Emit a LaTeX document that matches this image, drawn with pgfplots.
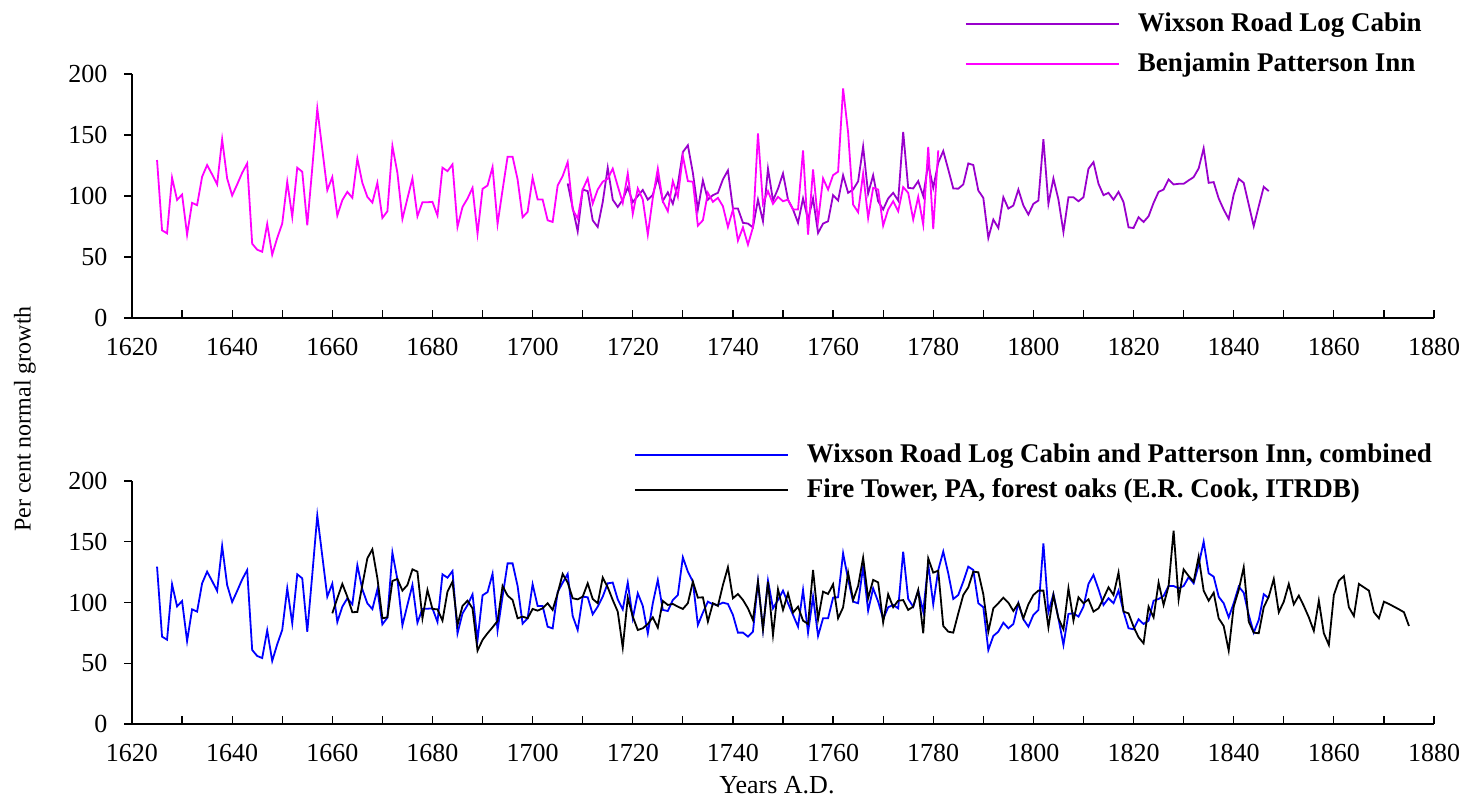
\documentclass[border=0pt]{standalone}
\usepackage{fontspec}
\setmainfont{Liberation Serif}
\usepackage{pgfplots}
\usepackage{pgfplotstable}
\pgfplotsset{compat=1.18}
\definecolor{wix}{RGB}{153,0,204}
\definecolor{ben}{RGB}{255,0,255}
\definecolor{comb}{RGB}{0,0,255}

\pgfplotstableread[row sep=\\]{
x y\\
1625 129.5\\ 1626 71.9\\ 1627 69.4\\ 1628 115\\ 1629 96.8\\ 1630 101.2\\ 1631 68.3\\ 1632 94.4\\ 1633 92.5\\ 1634 115.8\\
1635 125.4\\ 1636 117.7\\ 1637 109.5\\ 1638 146.5\\ 1639 114.4\\ 1640 100.4\\ 1641 109.5\\ 1642 119\\ 1643 126.7\\ 1644 60.9\\
1645 56\\ 1646 54.3\\ 1647 77.1\\ 1648 51.9\\ 1649 65.6\\ 1650 77.4\\ 1651 111.7\\ 1652 82.9\\ 1653 123.2\\ 1654 119.9\\
1655 76\\ 1656 123\\ 1657 171.7\\ 1658 138.3\\ 1659 104.8\\ 1660 115.5\\ 1661 84\\ 1662 96.6\\ 1663 103.4\\ 1664 98.5\\
1665 130.6\\ 1666 110.8\\ 1667 99.3\\ 1668 94.6\\ 1669 110.8\\ 1670 82\\ 1671 87.5\\ 1672 141\\ 1673 119\\ 1674 81.2\\
1675 98\\ 1676 114.4\\ 1677 83.4\\ 1678 94.9\\ 1679 94.9\\ 1680 95.2\\ 1681 84\\ 1682 123.2\\ 1683 120.4\\ 1684 125.9\\
1685 74.6\\ 1686 91\\ 1687 97.9\\ 1688 106.7\\ 1689 69.1\\ 1690 105.9\\ 1691 108.6\\ 1692 123.7\\ 1693 77.1\\ 1694 105\\
1695 132.2\\ 1696 132.2\\ 1697 113.6\\ 1698 82.6\\ 1699 87\\ 1700 115\\ 1701 97.1\\ 1702 97.1\\ 1703 80.1\\ 1704 78.7\\
1705 108.6\\ 1706 116.3\\ 1707 127.8\\ 1708 88.9\\ 1709 81.5\\ 1710 105.3\\ 1711 114.4\\ 1712 93.8\\ 1713 105.3\\ 1714 111.7\\
1715 114.1\\ 1716 122.4\\ 1717 108.1\\ 1718 94.4\\ 1719 118.5\\ 1720 85.3\\ 1721 106.2\\ 1722 97.1\\ 1723 68.3\\ 1724 98.5\\
1725 122.4\\ 1726 95.7\\ 1727 87.5\\ 1728 112.2\\ 1729 99.3\\ 1730 132.8\\ 1731 112.2\\ 1732 111.7\\ 1733 75.7\\ 1734 80.1\\
1735 102.6\\ 1736 95.2\\ 1737 98.5\\ 1738 91.6\\ 1739 74.6\\ 1740 88.9\\ 1741 63.4\\ 1742 74.3\\ 1743 60.1\\ 1744 74.3\\
1745 151.2\\ 1746 93.6\\ 1747 104\\ 1748 93.6\\ 1749 99.3\\ 1750 95.7\\ 1751 97.1\\ 1752 88.9\\ 1753 88.9\\ 1754 137.4\\
1755 68.3\\ 1756 121.8\\ 1757 79.3\\ 1758 114.4\\ 1759 105.3\\ 1760 117.1\\ 1761 119.9\\ 1762 188.2\\ 1763 152\\ 1764 93\\
1765 86.7\\ 1766 118.5\\ 1767 82\\ 1768 106.7\\ 1769 105.3\\ 1770 75.7\\ 1771 88.9\\ 1772 95.7\\ 1773 87.5\\ 1774 107.3\\
1775 102.6\\ 1776 80.7\\ 1777 99.3\\ 1778 76.5\\ 1779 140.2\\ 1780 73\\ 1781 137.4\\
}\benjamin

\pgfplotstableread[row sep=\\]{
x y\\
1707 110.3\\ 1708 90.3\\ 1709 71\\ 1710 105.3\\ 1711 104\\ 1712 80.1\\ 1713 74.6\\ 1714 95\\ 1715 123.2\\ 1716 97\\
1717 91\\ 1718 97\\ 1719 107\\ 1720 95\\ 1721 100\\ 1722 105\\ 1723 97\\ 1724 101\\ 1725 115.5\\ 1726 96\\
1727 103\\ 1728 93.6\\ 1729 109.5\\ 1730 136\\ 1731 141.6\\ 1732 119\\ 1733 89\\ 1734 112.8\\ 1735 97\\ 1736 100.7\\
1737 102.6\\ 1738 113.6\\ 1739 121\\ 1740 89.7\\ 1741 89.7\\ 1742 78\\ 1743 77.4\\ 1744 74.3\\ 1745 97\\ 1746 79.3\\
1747 122.4\\ 1748 96.3\\ 1749 106\\ 1750 118.5\\ 1751 97\\ 1752 89\\ 1753 78\\ 1754 98\\ 1755 80.7\\ 1756 98\\
1757 69.7\\ 1758 77.4\\ 1759 79.3\\ 1760 100.7\\ 1761 96.3\\ 1762 117\\ 1763 102.6\\ 1764 105.3\\ 1765 112\\ 1766 140.5\\
1767 102\\ 1768 117\\ 1769 95.7\\ 1770 89\\ 1771 98\\ 1772 102.6\\ 1773 96.3\\ 1774 152.5\\ 1775 106.7\\ 1776 106.2\\
1777 112.2\\ 1778 100\\ 1779 126.5\\ 1780 106.7\\ 1781 127.3\\ 1782 136.9\\ 1783 121.8\\ 1784 106.2\\ 1785 106\\ 1786 109.5\\
1787 126.7\\ 1788 125.4\\ 1789 104.5\\ 1790 98.5\\ 1791 65.6\\ 1792 80.7\\ 1793 73.8\\ 1794 99\\ 1795 89.7\\ 1796 92.2\\
1797 105.3\\ 1798 92.2\\ 1799 84.8\\ 1800 93.6\\ 1801 96.3\\ 1802 146.5\\ 1803 93.6\\ 1804 114.4\\ 1805 97.1\\ 1806 70.5\\
1807 99\\ 1808 99\\ 1809 95.7\\ 1810 99\\ 1811 122.4\\ 1812 127.8\\ 1813 110\\ 1814 100.7\\ 1815 102.6\\ 1816 97\\
1817 103.4\\ 1818 95\\ 1819 74.3\\ 1820 73.8\\ 1821 82.6\\ 1822 78.7\\ 1823 83.4\\ 1824 94.4\\ 1825 103.4\\ 1826 105.3\\
1827 113.6\\ 1828 109.5\\ 1829 110\\ 1830 110\\ 1831 112.8\\ 1832 115.5\\ 1833 122.6\\ 1834 139.1\\ 1835 110.8\\ 1836 111.4\\
1837 98\\ 1838 88.9\\ 1839 81.2\\ 1840 101.2\\ 1841 114.1\\ 1842 110.8\\ 1843 93\\ 1844 75.2\\ 1845 91.6\\ 1846 107.5\\
1847 104\\
}\wixson

\pgfplotstableread[row sep=\\]{
x y\\
1625 129.5\\ 1626 71.9\\ 1627 69.4\\ 1628 115\\ 1629 96.8\\ 1630 101.2\\ 1631 68.3\\ 1632 94.4\\ 1633 92.5\\ 1634 115.8\\
1635 125.4\\ 1636 117.7\\ 1637 109.5\\ 1638 146.5\\ 1639 114.4\\ 1640 100.4\\ 1641 109.5\\ 1642 119\\ 1643 126.7\\ 1644 60.9\\
1645 56\\ 1646 54.3\\ 1647 77.1\\ 1648 51.9\\ 1649 65.6\\ 1650 77.4\\ 1651 111.7\\ 1652 82.9\\ 1653 123.2\\ 1654 119.9\\
1655 76\\ 1656 123\\ 1657 171.7\\ 1658 138.3\\ 1659 104.8\\ 1660 115.5\\ 1661 84\\ 1662 96.6\\ 1663 103.4\\ 1664 98.5\\
1665 130.6\\ 1666 110.8\\ 1667 99.3\\ 1668 94.6\\ 1669 110.8\\ 1670 82\\ 1671 87.5\\ 1672 141\\ 1673 119\\ 1674 81.2\\
1675 98\\ 1676 114.4\\ 1677 83.4\\ 1678 94.9\\ 1679 94.9\\ 1680 95.2\\ 1681 84\\ 1682 123.2\\ 1683 120.4\\ 1684 125.9\\
1685 74.6\\ 1686 91\\ 1687 97.9\\ 1688 106.7\\ 1689 69.1\\ 1690 105.9\\ 1691 108.6\\ 1692 123.7\\ 1693 77.1\\ 1694 105\\
1695 132.2\\ 1696 132.2\\ 1697 113.6\\ 1698 82.6\\ 1699 87\\ 1700 115\\ 1701 97.1\\ 1702 97.1\\ 1703 80.1\\ 1704 78.7\\
1705 108.6\\ 1706 116.3\\ 1707 123.5\\ 1708 88.9\\ 1709 77.4\\ 1710 104.8\\ 1711 104.3\\ 1712 90.3\\ 1713 96.6\\ 1714 104.8\\
1715 115.8\\ 1716 116.4\\ 1717 102.6\\ 1718 94.4\\ 1719 116.4\\ 1720 87\\ 1721 107.6\\ 1722 97.2\\ 1723 74.7\\ 1724 99.4\\
1725 118.6\\ 1726 93.9\\ 1727 93\\ 1728 102.1\\ 1729 106.2\\ 1730 137.2\\ 1731 125.4\\ 1732 117.2\\ 1733 81.5\\ 1734 91.7\\
1735 100.7\\ 1736 98.5\\ 1737 98\\ 1738 99.9\\ 1739 98.8\\ 1740 89.8\\ 1741 75.2\\ 1742 75.2\\ 1743 71.9\\ 1744 76\\
1745 117.2\\ 1746 77.9\\ 1747 118\\ 1748 95.2\\ 1749 102.1\\ 1750 109.8\\ 1751 99.4\\ 1752 89.8\\ 1753 80.1\\ 1754 110.3\\
1755 75.2\\ 1756 104.8\\ 1757 72.5\\ 1758 87\\ 1759 87\\ 1760 104\\ 1761 104.3\\ 1762 140.5\\ 1763 119.1\\ 1764 100.7\\
1765 99.4\\ 1766 129.5\\ 1767 93.3\\ 1768 111.7\\ 1769 100.7\\ 1770 86.5\\ 1771 96.1\\ 1772 98\\ 1773 95.2\\ 1774 141.9\\
1775 102.9\\ 1776 96.6\\ 1777 109.8\\ 1778 92.5\\ 1779 131.4\\ 1780 98.5\\ 1781 126.8\\ 1782 141.9\\ 1783 124\\ 1784 102.9\\
1785 106.2\\ 1786 117.2\\ 1787 129.5\\ 1788 126.8\\ 1789 99.4\\ 1790 96.1\\ 1791 60.9\\ 1792 72.5\\ 1793 76\\ 1794 83.4\\
1795 78.8\\ 1796 82.3\\ 1797 99.4\\ 1798 86.2\\ 1799 80.1\\ 1800 89.8\\ 1801 93.9\\ 1802 148.7\\ 1803 92\\ 1804 107\\
1805 87\\ 1806 65.1\\ 1807 90.6\\ 1808 91.1\\ 1809 88.4\\ 1810 96.6\\ 1811 115.3\\ 1812 122.7\\ 1813 110.9\\ 1814 98\\
1815 103.5\\ 1816 99.4\\ 1817 109.8\\ 1818 92.5\\ 1819 78.8\\ 1820 78\\ 1821 86.2\\ 1822 82.3\\ 1823 85.1\\ 1824 101.5\\
1825 102.9\\ 1826 105.4\\ 1827 113.6\\ 1828 113.6\\ 1829 111.7\\ 1830 113.6\\ 1831 120.8\\ 1832 115.8\\ 1833 130.9\\ 1834 150.1\\
1835 124\\ 1836 121.3\\ 1837 104.8\\ 1838 99.4\\ 1839 87.8\\ 1840 99.4\\ 1841 113.1\\ 1842 108.1\\ 1843 89.8\\ 1844 75.2\\
1845 85.6\\ 1846 106.8\\ 1847 103.5\\
}\combined

\pgfplotstableread[row sep=\\]{
x y\\
1660 91.1\\ 1661 103.5\\ 1662 115.3\\ 1663 104.8\\ 1664 92\\ 1665 92.2\\ 1666 114.4\\ 1667 136.4\\ 1668 143.8\\ 1669 120\\
1670 87\\ 1671 87.8\\ 1672 117.7\\ 1673 119.4\\ 1674 109.8\\ 1675 114.4\\ 1676 127.3\\ 1677 125.4\\ 1678 87\\ 1679 110.3\\
1680 94.7\\ 1681 94.4\\ 1682 85.1\\ 1683 109\\ 1684 117.2\\ 1685 81.5\\ 1686 97.2\\ 1687 101.5\\ 1688 95.2\\ 1689 60.4\\
1690 69.2\\ 1691 74.7\\ 1692 79.6\\ 1693 84.8\\ 1694 113.6\\ 1695 105.7\\ 1696 102.1\\ 1697 87\\ 1698 88.4\\ 1699 87\\
1700 94.7\\ 1701 93.3\\ 1702 95.2\\ 1703 99.4\\ 1704 93.9\\ 1705 107.6\\ 1706 123.5\\ 1707 116.4\\ 1708 103.5\\ 1709 102.6\\
1710 104.8\\ 1711 115.8\\ 1712 102.9\\ 1713 99.4\\ 1714 120.5\\ 1715 112.5\\ 1716 102.1\\ 1717 92.5\\ 1718 62.9\\ 1719 104\\
1720 88.4\\ 1721 77.4\\ 1722 78.8\\ 1723 82.3\\ 1724 87.8\\ 1725 79.3\\ 1726 101.3\\ 1727 98\\ 1728 98.8\\ 1729 96.6\\
1730 94.7\\ 1731 99.4\\ 1732 117.2\\ 1733 104\\ 1734 104.3\\ 1735 84.3\\ 1736 99.4\\ 1737 97.2\\ 1738 114.4\\ 1739 129\\
1740 103.5\\ 1741 107\\ 1742 102.1\\ 1743 95.2\\ 1744 85.6\\ 1745 117.2\\ 1746 77.9\\ 1747 117.2\\ 1748 73.3\\ 1749 110.9\\
1750 93.9\\ 1751 107.6\\ 1752 91.7\\ 1753 96.6\\ 1754 85.1\\ 1755 82.3\\ 1756 126.8\\ 1757 86.2\\ 1758 109\\ 1759 107\\
1760 115\\ 1761 87\\ 1762 96\\ 1763 124.6\\ 1764 102.1\\ 1765 113.6\\ 1766 136.9\\ 1767 103.5\\ 1768 118.6\\ 1769 116.6\\
1770 83.7\\ 1771 106.8\\ 1772 96.1\\ 1773 101.5\\ 1774 102\\ 1775 93.9\\ 1776 96.6\\ 1777 110.3\\ 1778 74.7\\ 1779 136.4\\
1780 124.6\\ 1781 126.2\\ 1782 80.7\\ 1783 76\\ 1784 75.2\\ 1785 91.1\\ 1786 106.2\\ 1787 112.5\\ 1788 125.4\\ 1789 124.9\\
1790 106.8\\ 1791 76\\ 1792 95.2\\ 1793 99.4\\ 1794 104\\ 1795 99.9\\ 1796 93\\ 1797 99.4\\ 1798 87\\ 1799 98.5\\
1800 106.2\\ 1801 109.8\\ 1802 109.8\\ 1803 79.6\\ 1804 106.2\\ 1805 87\\ 1806 77.9\\ 1807 111.7\\ 1808 85.1\\ 1809 104.3\\
1810 99.4\\ 1811 102.6\\ 1812 92.5\\ 1813 95.2\\ 1814 103.5\\ 1815 112.5\\ 1816 106.2\\ 1817 124.6\\ 1818 92.5\\ 1819 91.1\\
1820 80.1\\ 1821 71.4\\ 1822 66.4\\ 1823 96.6\\ 1824 87.8\\ 1825 116.4\\ 1826 98\\ 1827 113.6\\ 1828 159.2\\ 1829 102.6\\
1830 127.3\\ 1831 121.8\\ 1832 117.2\\ 1833 137.7\\ 1834 109.8\\ 1835 101.5\\ 1836 108.1\\ 1837 87\\ 1838 80.7\\ 1839 60.4\\
1840 96.6\\ 1841 110.3\\ 1842 129\\ 1843 84.3\\ 1844 75.2\\ 1845 74.7\\ 1846 96.1\\ 1847 104.8\\ 1848 119.4\\ 1849 92\\
1850 100.7\\ 1851 115.3\\ 1852 98.5\\ 1853 105.7\\ 1854 97.2\\ 1855 87.8\\ 1856 76.6\\ 1857 101.5\\ 1858 74.7\\ 1859 65.1\\
1860 106.2\\ 1861 118\\ 1862 121.8\\ 1863 96.1\\ 1864 88.9\\ 1865 115.3\\ 1866 112.5\\ 1867 109.8\\ 1868 92\\ 1869 87\\
1870 100.7\\ 1871 98.8\\ 1872 96.6\\ 1873 94.4\\ 1874 92\\ 1875 80.7\\
}\firetower

\pgfplotsset{
  panel/.style={
    anchor=south west, scale only axis, width=651pt,
    xmin=1620, xmax=1880, ymin=0, ymax=200,
    axis x line*=bottom, axis y line*=left,
    xtick={1620,1640,...,1880}, minor xtick={1630,1650,...,1870},
    ytick={0,50,...,200},
    xtick align=inside, ytick align=outside,
    major tick length=3.8pt, minor tick length=3.8pt,
    tick style={black, line width=0.6pt},
    axis line style={black, line width=0.6pt},
    /pgf/number format/1000 sep={},
    /pgf/number format/assume math mode=true,
    ticklabel style={font=\fontsize{13}{15}\selectfont},
    xticklabel style={yshift=-6.5pt},
    yticklabel style={xshift=-5pt},
    legend cell align=left,
    legend image code/.code={\draw[#1] (0pt,0pt) -- (76.5pt,0pt);},
    every axis plot/.append style={line width=0.9pt, mark=none},
  }
}

\begin{document}
\begin{tikzpicture}[font=\fontsize{13}{15}\selectfont]
\path[use as bounding box] (0pt,0pt) rectangle (733.5pt,-399.5pt);

\begin{axis}[panel, at={(66pt,-159pt)}, height=122pt,
  legend style={at={(0.6398,1.2582)}, anchor=north west, draw=none, fill=none,
    inner sep=0pt, outer sep=0pt, row sep=7pt, column sep=9pt,
    font=\fontsize{13.5}{15}\selectfont\bfseries,
    nodes={inner sep=0pt, text height=10pt, text depth=3pt}}]
\addplot[wix] table[x=x,y=y] {\wixson};
\addlegendentry{Wixson Road Log Cabin}
\addplot[ben] table[x=x,y=y] {\benjamin};
\addlegendentry{Benjamin Patterson Inn}
\end{axis}

\begin{axis}[panel, at={(66pt,-362pt)}, height=121.5pt,
  legend style={at={(0.3856,1.1605)}, anchor=north west, draw=none, fill=none,
    inner sep=0pt, outer sep=0pt, row sep=4.5pt, column sep=9pt,
    font=\fontsize{13.5}{15}\selectfont\bfseries,
    nodes={inner sep=0pt, text height=10pt, text depth=3pt}}]
\addplot[comb] table[x=x,y=y] {\combined};
\addlegendentry{Wixson Road Log Cabin and Patterson Inn, combined}
\addplot[black] table[x=x,y=y] {\firetower};
\addlegendentry{Fire Tower, PA, forest oaks (E.R. Cook, ITRDB)}
\end{axis}

\node[rotate=90, font=\fontsize{12}{14}\selectfont] at (12.5pt,-209.5pt) {Per cent normal growth};
\node at (388.5pt,-392.5pt) {Years A.D.};
\end{tikzpicture}
\end{document}
